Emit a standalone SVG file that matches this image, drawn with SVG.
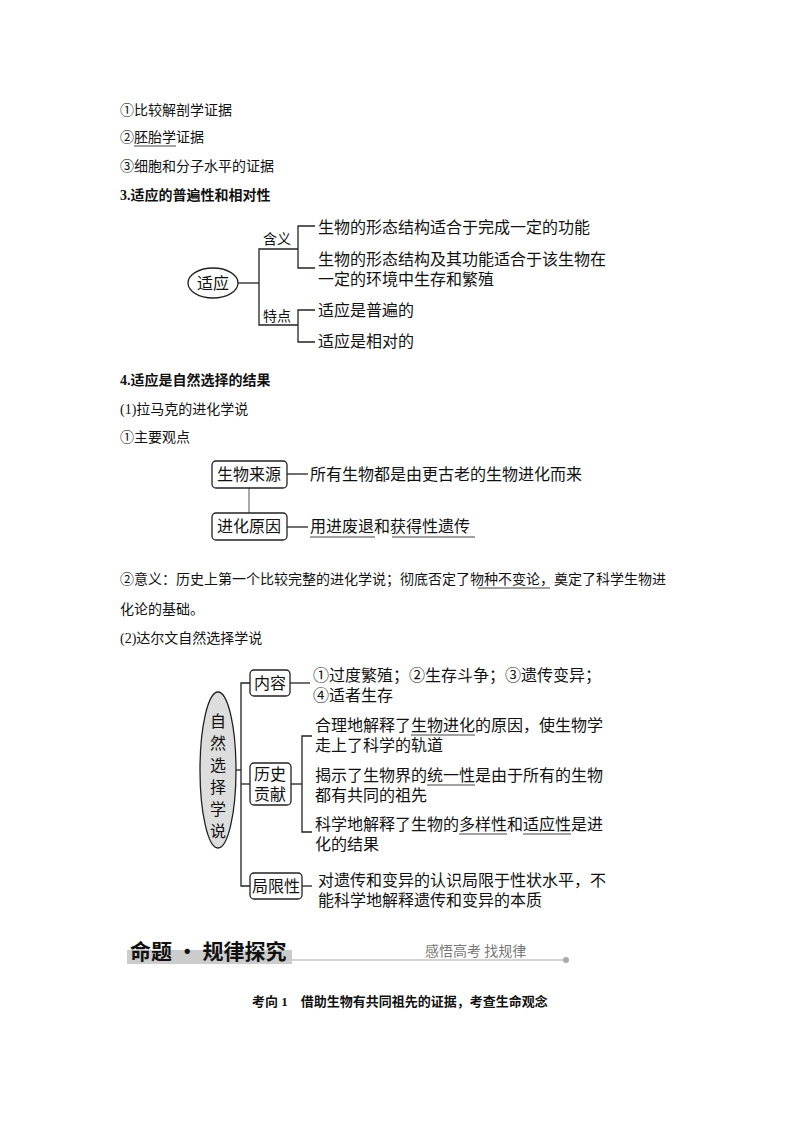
<svg xmlns="http://www.w3.org/2000/svg" width="800" height="1132" viewBox="0 0 800 1132">
<style>
text{font-family:"Liberation Serif","Noto Sans CJK SC",serif;fill:#111}
.s{font-size:14px}.m{font-size:16px}.b{font-weight:bold}
.l{stroke:#222;stroke-width:1.3;fill:none}
.box{fill:#fff;stroke:#222;stroke-width:1.3}
.u{stroke:#444;stroke-width:1}
</style>
<rect width="800" height="1132" fill="#fff"/>
<text class="s" x="120" y="115">①比较解剖学证据</text>
<text class="s" x="120" y="142">②胚胎学证据</text>
<line class="u" x1="134" y1="146" x2="176" y2="146"/>
<text class="s" x="120" y="171">③细胞和分子水平的证据</text>
<text class="s b" x="120" y="200">3.适应的普遍性和相对性</text>

<g id="connectors">
<line class="l" x1="238" y1="283" x2="259" y2="283"/>
<path class="l" d="M298 249H259V325H298"/>
<path class="l" d="M315 226H298V268H315"/>
<path class="l" d="M315 310H298V342H315"/>
<line class="l" x1="287" y1="474" x2="308" y2="474"/>
<line x1="249" y1="488" x2="249" y2="513" stroke="#aaa" stroke-width="2"/>
<line class="l" x1="287" y1="527" x2="308" y2="527"/>
<line class="l" x1="236" y1="770" x2="241" y2="770"/>
<path class="l" d="M250 683H241V886H250"/>
<line class="l" x1="241" y1="784" x2="250" y2="784"/>
<line class="l" x1="290" y1="683" x2="310" y2="683"/>
<path class="l" d="M312 736H302V832H312"/>
<line class="l" x1="291" y1="784" x2="302" y2="784"/>
<line class="l" x1="302" y1="886" x2="312" y2="886"/>
</g>

<g id="shiying"><ellipse cx="213" cy="283" rx="25" ry="15" fill="#fff" stroke="#222" stroke-width="1.3"/><text class="m" x="213" y="289" text-anchor="middle">适应</text></g>
<g id="hanyi"><text class="s" x="263" y="244">含义</text></g>
<g id="tedian"><text class="s" x="263" y="321">特点</text></g>
<g id="h1"><text class="m" x="318" y="233">生物的形态结构适合于完成一定的功能</text></g>
<g id="h2"><text class="m" x="318" y="265">生物的形态结构及其功能适合于该生物在</text><text class="m" x="318" y="285">一定的环境中生存和繁殖</text></g>
<g id="t1"><text class="m" x="318" y="316">适应是普遍的</text></g>
<g id="t2"><text class="m" x="318" y="347">适应是相对的</text></g>

<text class="s b" x="120" y="385">4.适应是自然选择的结果</text>
<text class="s" x="120" y="414">(1)拉马克的进化学说</text>
<text class="s" x="120" y="442">①主要观点</text>

<g id="laiyuan"><rect class="box" x="212" y="461" width="75" height="27" rx="4"/><text class="m" x="249" y="480" text-anchor="middle">生物来源</text></g>
<g id="laiyuan-t"><text class="m" x="310" y="480">所有生物都是由更古老的生物进化而来</text></g>
<g id="yuanyin"><rect class="box" x="212" y="513" width="75" height="27" rx="4"/><text class="m" x="249" y="532" text-anchor="middle">进化原因</text></g>
<g id="yuanyin-t"><text class="m" x="310" y="532">用进废退和获得性遗传</text>
<line class="u" x1="310" y1="537" x2="375" y2="537"/><line class="u" x1="392" y1="537" x2="475" y2="537"/></g>

<text class="s" x="120" y="584">②意义：历史上第一个比较完整的进化学说；彻底否定了物种不变论，奠定了科学生物进</text>
<line class="u" x1="478" y1="588" x2="550" y2="588"/>
<text class="s" x="120" y="614">化论的基础。</text>
<text class="s" x="120" y="643">(2)达尔文自然选择学说</text>

<g id="ziran"><ellipse cx="218" cy="770" rx="18" ry="78" fill="#ddd" stroke="#222" stroke-width="1.3"/>
<text class="m" x="218" text-anchor="middle"><tspan x="218" y="727">自</tspan><tspan x="218" y="749">然</tspan><tspan x="218" y="771">选</tspan><tspan x="218" y="793">择</tspan><tspan x="218" y="815">学</tspan><tspan x="218" y="837">说</tspan></text></g>
<g id="neirong"><rect class="box" x="250" y="670" width="40" height="26" rx="4"/><text class="m" x="270" y="689" text-anchor="middle">内容</text></g>
<g id="neirong-t"><text class="m" x="313" y="681">①过度繁殖；②生存斗争；③遗传变异；</text><text class="m" x="313" y="701">④适者生存</text></g>
<g id="gongxian"><rect class="box" x="250" y="763" width="41" height="42" rx="4"/><text class="m" x="270" y="780" text-anchor="middle">历史</text><text class="m" x="270" y="800" text-anchor="middle">贡献</text></g>
<g id="g1"><text class="m" x="315" y="731">合理地解释了生物进化的原因，使生物学</text><text class="m" x="315" y="751">走上了科学的轨道</text><line class="u" x1="411" y1="735" x2="475" y2="735"/></g>
<g id="g2"><text class="m" x="315" y="781">揭示了生物界的统一性是由于所有的生物</text><text class="m" x="315" y="801">都有共同的祖先</text><line class="u" x1="427" y1="785" x2="475" y2="785"/></g>
<g id="g3"><text class="m" x="315" y="830">科学地解释了生物的多样性和适应性是进</text><text class="m" x="315" y="850">化的结果</text><line class="u" x1="459" y1="834" x2="507" y2="834"/><line class="u" x1="523" y1="834" x2="571" y2="834"/></g>
<g id="juxian"><rect class="box" x="250" y="873" width="52" height="26" rx="4"/><text class="m" x="276" y="892" text-anchor="middle">局限性</text></g>
<g id="juxian-t"><text class="m" x="318" y="886">对遗传和变异的认识局限于性状水平，不</text><text class="m" x="318" y="906">能科学地解释遗传和变异的本质</text></g>

<rect x="127" y="950" width="165" height="14" fill="#ccc"/>
<text x="130" y="959" style="font-size:21px;font-weight:bold;font-family:'Noto Sans CJK SC',sans-serif">命题 · 规律探究</text>
<line x1="292" y1="960" x2="564" y2="960" stroke="#aaa" stroke-width="1.2"/>
<circle cx="566" cy="960" r="3" fill="#aaa"/>
<text x="425" y="956" style="font-size:14px;fill:#777;font-family:'Noto Sans CJK SC',sans-serif">感悟高考 找规律</text>
<text x="400" y="1006" text-anchor="middle" style="font-size:13px;font-weight:bold">考向 1　借助生物有共同祖先的证据，考查生命观念</text>
</svg>
